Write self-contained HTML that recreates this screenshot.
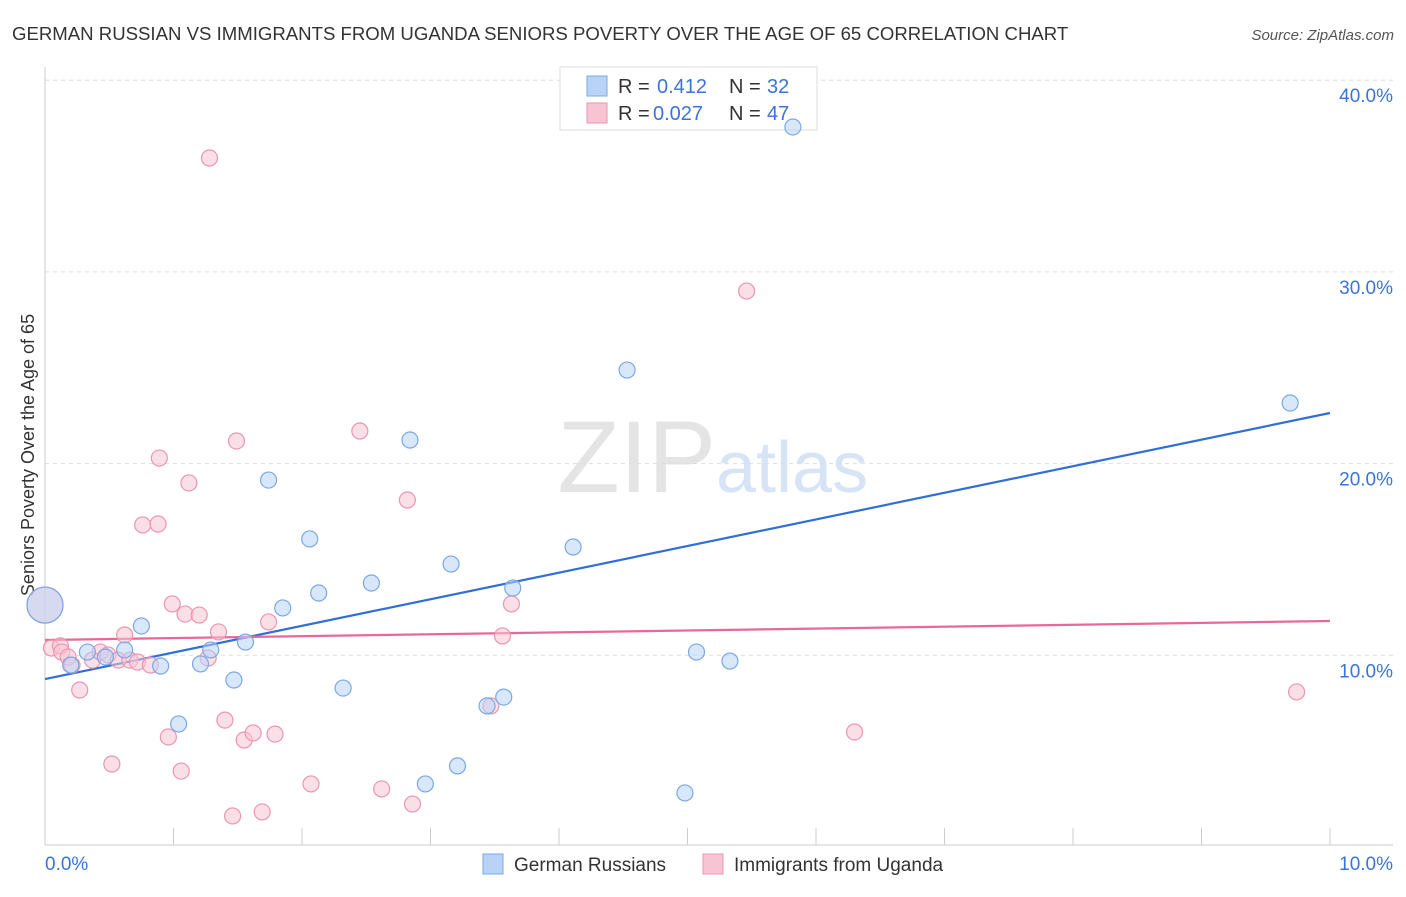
<!DOCTYPE html>
<html><head><meta charset="utf-8"><style>
body{margin:0;background:#fff;font-family:"Liberation Sans",sans-serif;}
svg text{font-family:"Liberation Sans",sans-serif;}
</style></head><body>
<svg id="chart" width="1406" height="892" viewBox="0 0 1406 892">
<text x="12" y="40" font-size="18.6" fill="#333">GERMAN RUSSIAN VS IMMIGRANTS FROM UGANDA SENIORS POVERTY OVER THE AGE OF 65 CORRELATION CHART</text>
<text x="1394" y="40" font-size="15" fill="#555" font-style="italic" text-anchor="end">Source: ZipAtlas.com</text>
<text x="716" y="492" font-size="102" fill="#e4e4e4" text-anchor="end" font-family="Liberation Serif">ZIP</text>
<text x="716" y="492" font-size="72" fill="#d6e4f5">atlas</text>
<text transform="translate(34,455) rotate(-90)" font-size="18" fill="#333" text-anchor="middle">Seniors Poverty Over the Age of 65</text>
<g id="grid"></g><g id="ticks"></g>
<g>
<rect x="560" y="67" width="257" height="63" fill="#fff" stroke="#ddd"/>
<rect x="587" y="76" width="20" height="20" fill="#b8d3f5" stroke="#7aa8e6"/>
<text x="618" y="93" font-size="20" fill="#333">R = </text><text x="657" y="93" font-size="20" fill="#3a74d8">0.412</text>
<text x="729" y="93" font-size="20" fill="#333">N = </text><text x="767" y="93" font-size="20" fill="#3a74d8">32</text>
<rect x="587" y="103" width="20" height="20" fill="#f8c4d4" stroke="#eb95b2"/>
<text x="618" y="120" font-size="20" fill="#333">R = </text><text x="653" y="120" font-size="20" fill="#3a74d8">0.027</text>
<text x="729" y="120" font-size="20" fill="#333">N = </text><text x="767" y="120" font-size="20" fill="#3a74d8">47</text>
</g>
<g id="lines"></g>
<g id="points"></g>
<g>
<rect x="483" y="854" width="20" height="20" fill="#b8d3f5" stroke="#7aa8e6"/>
<text x="514" y="871" font-size="19" fill="#333">German Russians</text>
<rect x="703" y="854" width="20" height="20" fill="#f8c4d4" stroke="#eb95b2"/>
<text x="734" y="871" font-size="19" fill="#333">Immigrants from Uganda</text>
</g>
</svg>
<script>
const blueX=[0,0.20,0.33,0.47,0.62,0.75,0.90,1.04,1.21,1.29,1.47,1.56,1.74,1.85,2.06,2.13,2.32,2.54,2.84,2.96,3.16,3.21,3.44,3.57,3.64,4.11,4.53,4.98,5.07,5.33,5.82,9.69];
const blueY=[12.62,9.49,10.17,9.91,10.28,11.53,9.44,6.42,9.55,10.28,8.71,10.69,19.14,12.47,16.07,13.25,8.29,13.77,21.23,3.29,14.76,4.23,7.36,7.82,13.51,15.65,24.88,2.82,10.17,9.70,37.56,23.16];
const pinkX=[0,.05,.12,.13,.18,.21,.27,.37,.43,.49,.52,.57,.62,.66,.72,.76,.82,.88,.89,.96,.99,1.06,1.09,1.12,1.20,1.27,1.28,1.35,1.40,1.46,1.49,1.55,1.62,1.69,1.74,1.79,2.07,2.45,2.62,2.82,2.86,3.47,3.56,3.63,5.46,6.30,9.74];
const pinkY=[12.62,10.38,10.49,10.17,9.91,9.49,8.19,9.75,10.17,10.02,4.33,9.75,11.06,9.75,9.65,16.80,9.49,16.85,20.29,5.74,12.68,3.96,12.15,18.99,12.10,9.86,35.94,11.22,6.62,1.62,21.18,5.58,5.95,1.83,11.74,5.89,3.29,21.70,3.03,18.10,2.24,7.36,11.01,12.68,29.00,6.00,8.09];
const blueTrend=[8.76,22.64];
const pinkTrend=[10.80,11.79];
const yTicks=[10,20,30,40];
const yTickLabels=["10.0%","20.0%","30.0%","40.0%"];
const xLabels=["0.0%","10.0%"];
const NS="http://www.w3.org/2000/svg";
const X=v=>45+v*128.5, Y=v=>847-v*19.17;
function mk(tag,attrs,parent){const e=document.createElementNS(NS,tag);for(const k in attrs)e.setAttribute(k,attrs[k]);document.getElementById(parent).appendChild(e);return e;}
yTicks.forEach((t,i)=>{
 const g=mk('line',{x1:45,x2:1393,y1:Y(t),y2:Y(t),stroke:'#ddd','stroke-dasharray':'4,4'},'grid');
 
 
 const tx=mk('text',{x:1393,y:Y(t)+22,'font-size':19,fill:'#3a74d8','text-anchor':'end'},'grid');
 tx.textContent=yTickLabels[i];
 
 
});
const ax=mk('line',{x1:45,x2:45,y1:67,y2:845,stroke:'#ccc'},'ticks');


const bx=mk('line',{x1:45,x2:1393,y1:845,y2:845,stroke:'#ccc'},'ticks');


for(let i=1;i<=10;i++){
 const t=mk('line',{x1:X(i),x2:X(i),y1:828,y2:845,stroke:'#ccc'},'ticks');
 
 
}
[[0,'start',45],[10,'end',1393]].forEach((d,i)=>{
 const t=mk('text',{x:d[2],y:870,'font-size':19,fill:'#3a74d8','text-anchor':d[1]},'ticks');
 t.textContent=xLabels[i];
 
 
});
function pts(xs,ys,fill,stroke,name){
 xs.forEach((x,i)=>{
  const big=(x===0);
  const c=mk('circle',{cx:X(x),cy:Y(ys[i]),r:big?18:8,fill:fill,'fill-opacity':0.55,stroke:stroke,'stroke-width':1.2},'points');
  
  
 });
}
pts(pinkX,pinkY,'#f8c4d4','#eb95b2','uganda-point');
pts(blueX,blueY,'#b8d3f5','#7aa8e6','german-russian-point');
const bl=mk('line',{x1:X(0),y1:Y(blueTrend[0]),x2:X(10),y2:Y(blueTrend[1]),stroke:'#2f6fd6','stroke-width':2.2},'lines');


const pl=mk('line',{x1:X(0),y1:Y(pinkTrend[0]),x2:X(10),y2:Y(pinkTrend[1]),stroke:'#e8689a','stroke-width':2.2},'lines');


</script>
</body></html>
